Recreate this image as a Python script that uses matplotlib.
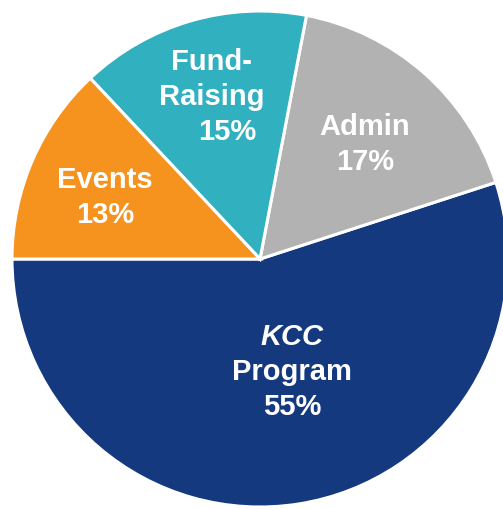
import numpy as np
import matplotlib
matplotlib.use('Agg')
import matplotlib.pyplot as plt

# DATA
categories = ['KCC Program', 'Admin', 'Fund-Raising', 'Events']
shares = [55, 17, 15, 13]
label_lines = [['KCC', 'Program', '55%'],
               ['Admin', '17%'],
               ['Fund-', 'Raising', '15%'],
               ['Events', '13%']]
colors = ['#15397f', '#b2b2b2', '#31b0c0', '#f6921e']

# LAYOUT (pixels, y up)
W, H = 503, 510
cx, cy, R = 260, 250, 248
label_r = [0.455, 0.64, 0.70, 0.68]
label_turn = [7.5, 0, 0, 0]   # degrees off the wedge middle
line_gap = 35

fig = plt.figure(figsize=(W / 100, H / 100), dpi=100)
ax = fig.add_axes([0, 0, 1, 1])
wedges, _ = ax.pie(shares, colors=colors, startangle=180, counterclock=True,
                   center=(cx, cy), radius=R,
                   wedgeprops=dict(edgecolor='white', linewidth=2.2))
ax.set_xlim(0, W)
ax.set_ylim(0, H)
ax.axis('off')

for i, w in enumerate(wedges):
    mid = np.deg2rad((w.theta1 + w.theta2) / 2 + label_turn[i])
    x0 = cx + label_r[i] * R * np.cos(mid)
    y0 = cy + label_r[i] * R * np.sin(mid) - 4
    lines = label_lines[i]
    n = len(lines)
    for j, line in enumerate(lines):
        y = y0 + (n - 1) / 2 * line_gap - j * line_gap
        x = x0
        if line.endswith('%') and categories[i] == 'Fund-Raising':
            x += 16
        style = 'italic' if line == 'KCC' else 'normal'
        ax.text(x, y, line, ha='center', va='center', color='white',
                fontsize=21, fontweight='bold', fontstyle=style,
                family=['Liberation Sans', 'DejaVu Sans'])

fig.savefig('out.png', dpi=100)
